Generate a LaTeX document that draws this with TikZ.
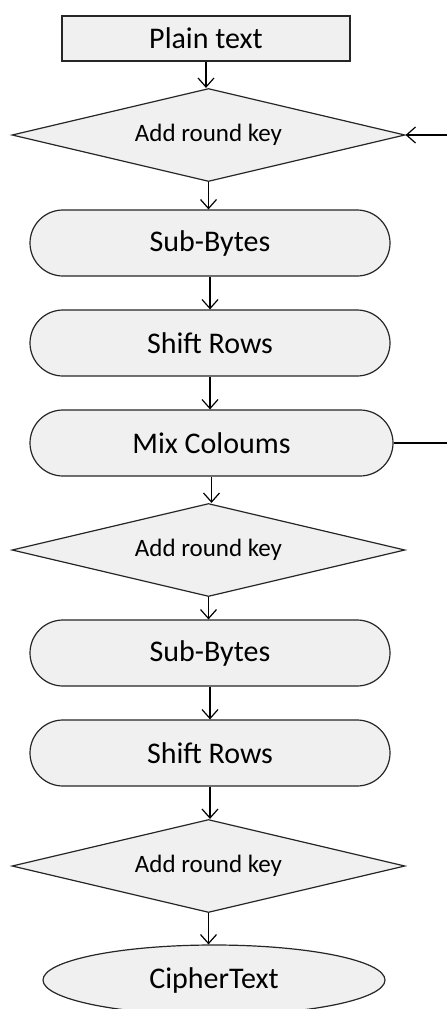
\documentclass[tikz,border=0pt]{standalone}
\usepackage{fontspec}
\setmainfont{Carlito}
\usetikzlibrary{shapes.geometric,shapes.misc,arrows.meta}

\begin{document}
\begin{tikzpicture}[x=1pt,y=-1pt,
    font=\fontsize{30}{36}\selectfont,
    stage/.style={draw=black!85, fill=gray!12, line width=1.2pt, inner sep=0pt},
    plainbox/.style={stage, rectangle, minimum width=288pt, minimum height=45pt},
    keybox/.style={stage, diamond, aspect=4, minimum width=393pt, minimum height=93pt,
        font=\fontsize{25}{30}\selectfont},
    roundbox/.style={stage, rounded rectangle, minimum width=360pt, minimum height=66pt},
    cipherbox/.style={stage, ellipse, minimum width=342pt, minimum height=70pt},
    flow/.style={line width=1.2pt, -{Straight Barb[length=9pt,width=16pt]}}
  ]
  \useasboundingbox (0,0) rectangle (447,1009);

  % Stages
  \node[plainbox] (plain) at (206,38.5) {Plain text};
  \node[keybox] (key1) at (208.5,135) {Add round key};
  \node[roundbox] (sub1) at (210,243) {Sub-Bytes};
  \node[roundbox] (shift1) at (210,343) {Shift Rows};
  \node[roundbox, minimum width=363pt] (mix) at (211.5,443) {Mix Coloums};
  \node[keybox] (key2) at (208.5,550) {Add round key};
  \node[roundbox] (sub2) at (210,653) {Sub-Bytes};
  \node[roundbox] (shift2) at (210,753) {Shift Rows};
  \node[keybox] (key3) at (208.5,866) {Add round key};
  \node[cipherbox] (cipher) at (214,980) {CipherText};

  % Flow down
  \foreach \a/\b in {plain/key1, key1/sub1, sub1/shift1, shift1/mix, mix/key2,
                     key2/sub2, sub2/shift2, shift2/key3, key3/cipher}
    \draw[flow] (\a.south) -- (\a.south |- \b.north);

  % Round loop
  \coordinate (feed) at (447,135);
  \coordinate (loop) at (447,443);
  \draw[flow] (feed) -- (key1.east);
  \draw[line width=1.2pt] (mix.east) -- (loop);
\end{tikzpicture}
\end{document}
